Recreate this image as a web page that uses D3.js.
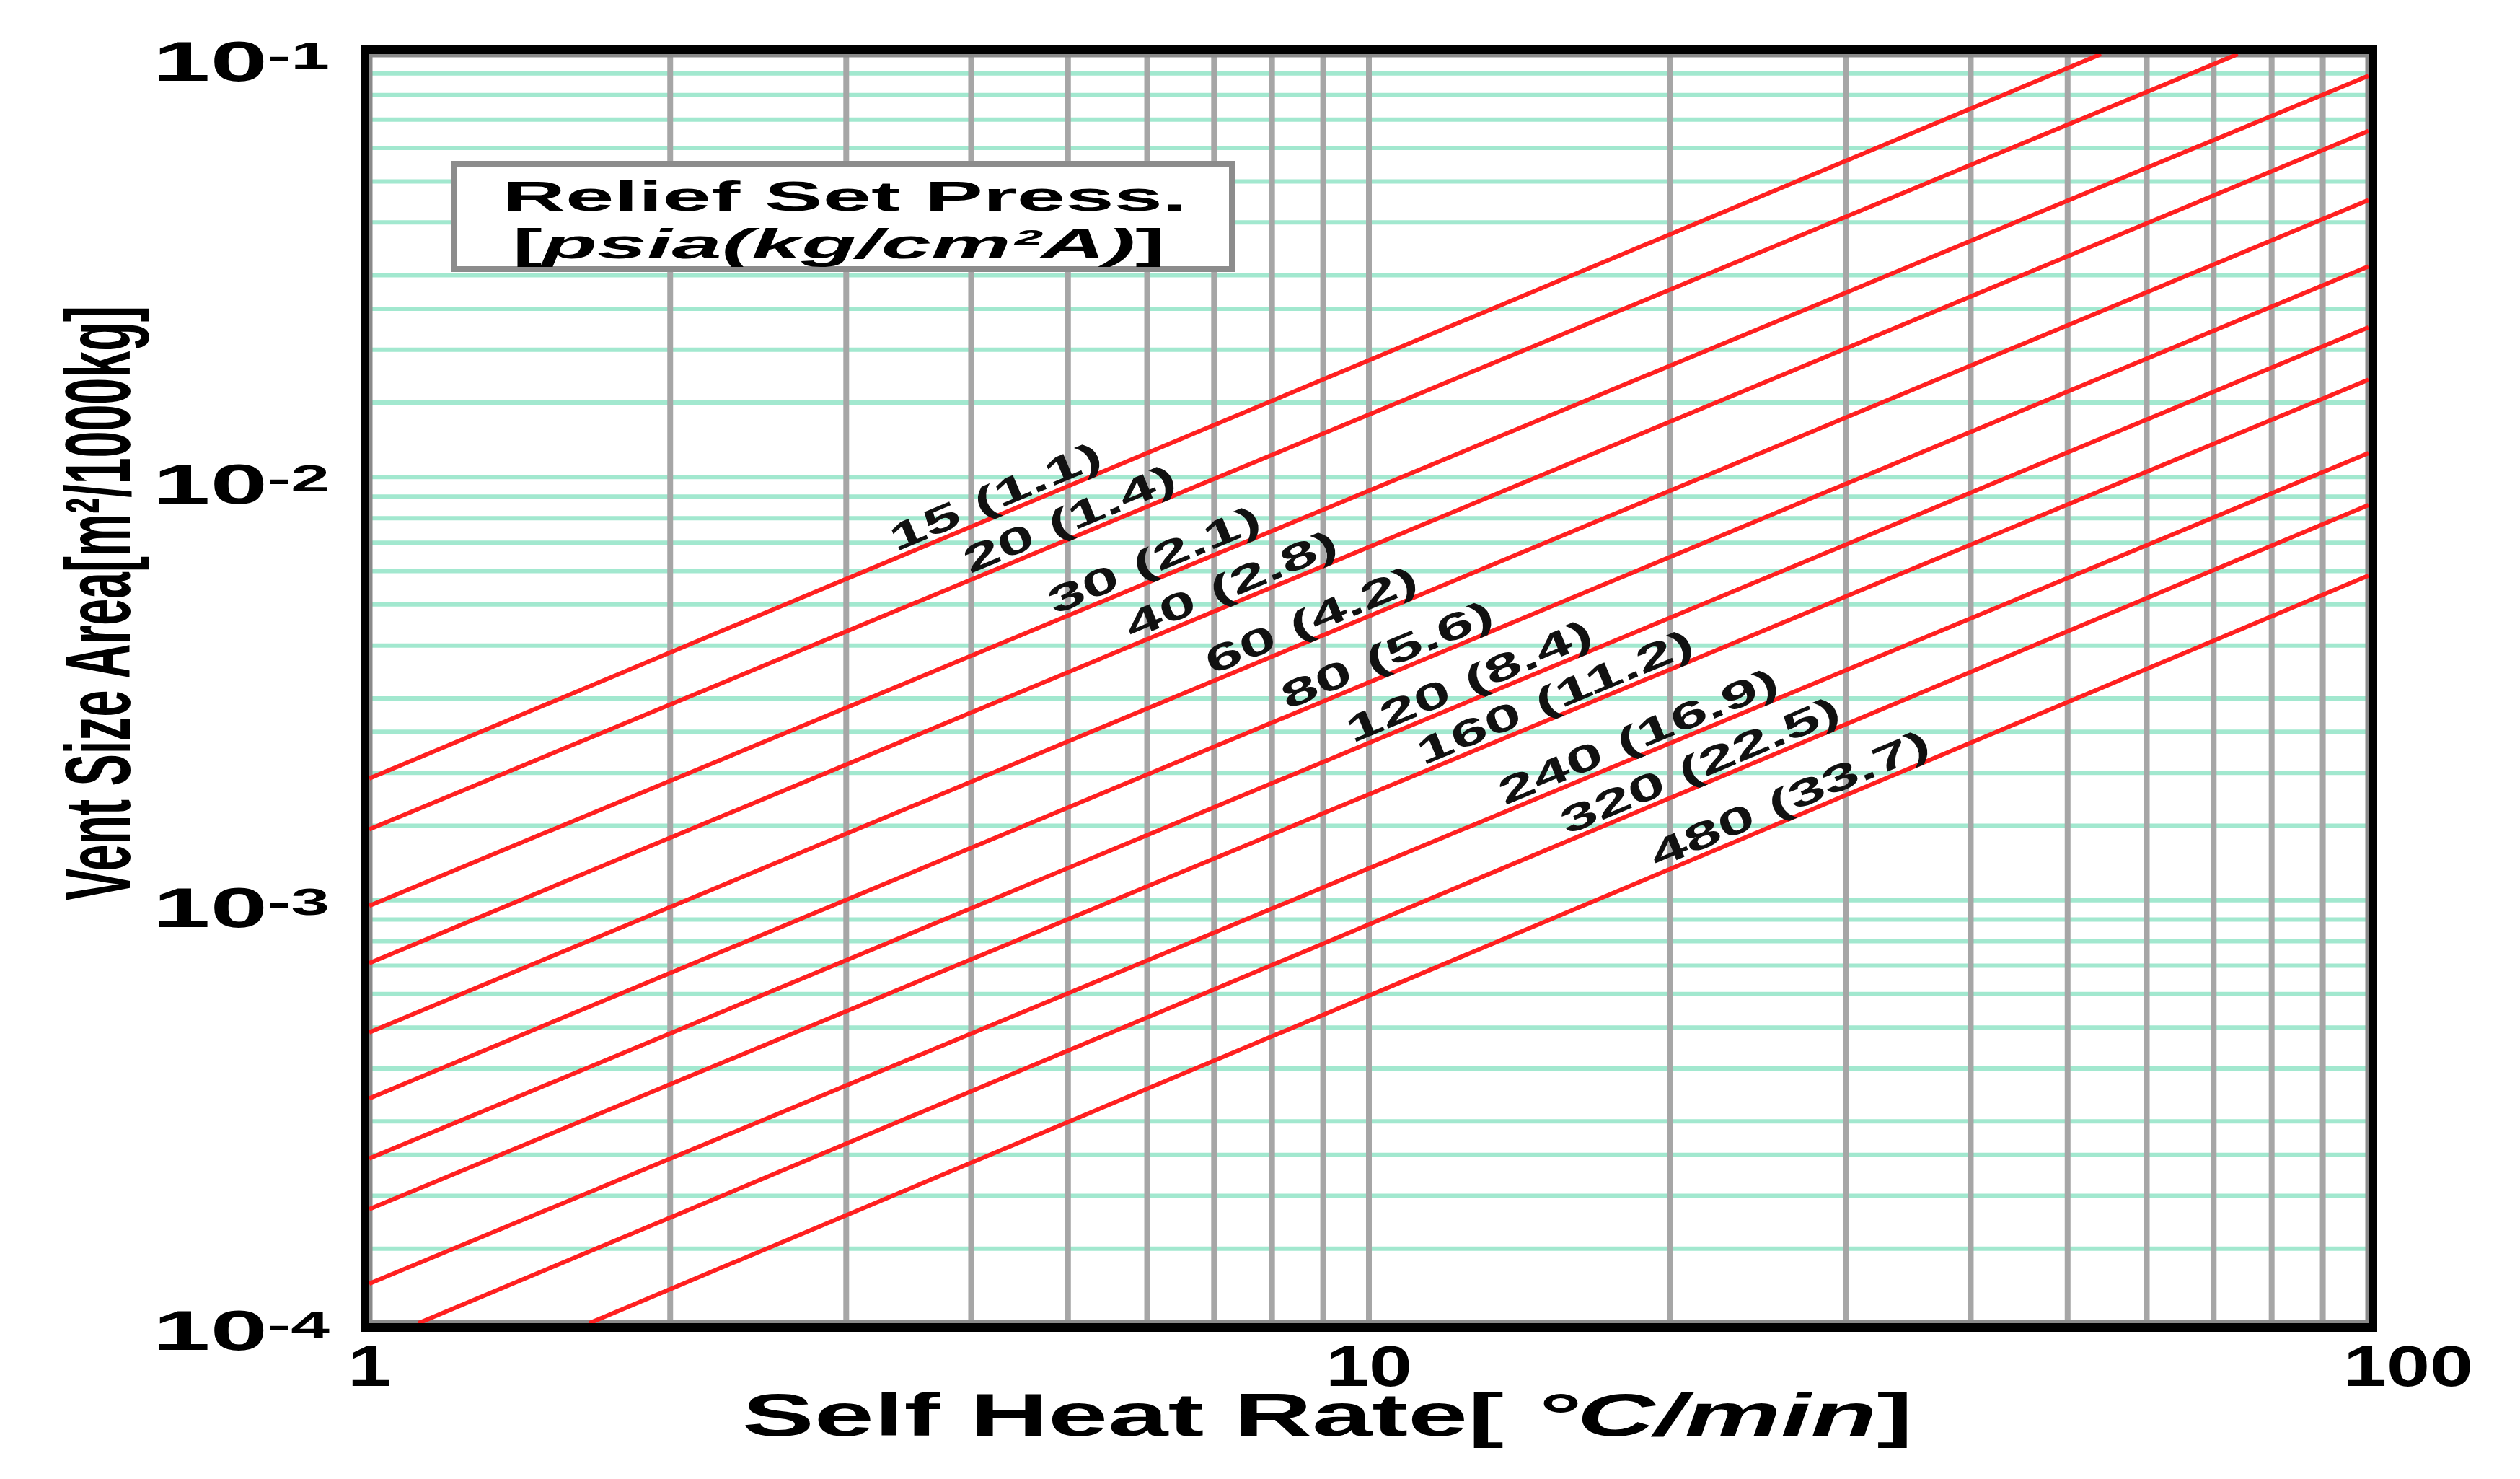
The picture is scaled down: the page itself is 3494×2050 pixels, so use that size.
<!DOCTYPE html>
<html>
<head>
<meta charset="utf-8">
<script src="https://cdn.jsdelivr.net/npm/d3@7"></script>
<style>
  html, body { margin: 0; padding: 0; background: #fff; }
  svg { display: block; font-family: 'Liberation Sans', Arial, sans-serif; font-weight: bold; }
</style>
</head>
<body>
<svg id="chart" width="3494" height="2050"></svg>
<script>
// relief set pressure curves, psia (kg/cm2 A)
const pressLabels = ['15 (1.1)', '20 (1.4)', '30 (2.1)', '40 (2.8)', '60 (4.2)', '80 (5.6)',
  '120 (8.4)', '160 (11.2)', '240 (16.9)', '320 (22.5)', '480 (33.7)']
// each curve at its two ends (rate in C/min, area in m2/1000kg)
const startRate = [1, 1, 1, 1, 1, 1, 1, 1, 1, 1.12, 1.66]
const startArea = [1.94e-3, 1.47e-3, 9.7e-4, 7.1e-4, 4.87e-4, 3.4e-4, 2.45e-4, 1.86e-4, 1.24e-4, 1e-4, 1e-4]
const endRate = [54, 74, 100, 100, 100, 100, 100, 100, 100, 100, 100]
const endArea = [0.1, 0.1, 8.89e-2, 6.58e-2, 4.52e-2, 3.15e-2, 2.26e-2, 1.7e-2, 1.14e-2, 8.59e-3, 5.85e-3]
// rate at which each curve label sits
const labelRate = [4.3, 5.1, 6.2, 7.4, 8.9, 10.6, 12.8, 15.6, 18.9, 21.8, 26.8]

const xTicks = [1, 10, 100]
const xTickLabels = ['1', '10', '100']
const yTicks = [1e-1, 1e-2, 1e-3, 1e-4]
const yTickExp = ['-1', '-2', '-3', '-4']
const xGrid = [2, 3, 4, 5, 6, 7, 8, 9, 10, 20, 30, 40, 50, 60, 70, 80, 90]
const yGridSteps = [1, 1.5, 2, 2.5, 3, 4, 5, 6, 7, 8, 9]
const yDecades = [1e-4, 1e-3, 1e-2]

const width = 3494
const height = 2050
const plot = { left: 512, right: 3284, top: 75, bottom: 1834 }

const svg = d3.select('#chart')

svg.append('rect')
  .attr('width', width)
  .attr('height', height)
  .attr('fill', '#fff')

const x = d3.scaleLog().domain([1, 100]).range([plot.left, plot.right])
const y = d3.scaleLog().domain([1e-4, 1e-1]).range([plot.bottom, plot.top])

svg.append('defs').append('clipPath')
  .attr('id', 'plot-clip')
  .append('rect')
  .attr('x', plot.left)
  .attr('y', plot.top)
  .attr('width', plot.right - plot.left)
  .attr('height', plot.bottom - plot.top)

// green horizontal grid
const yGrid = yDecades.flatMap(d => yGridSteps.map(s => s * d))

svg.append('g')
  .selectAll('line')
  .data(yGrid)
  .enter()
  .append('line')
  .attr('x1', plot.left)
  .attr('x2', plot.right)
  .attr('y1', d => y(d))
  .attr('y2', d => y(d))
  .style('stroke', '#a2e8cf')
  .style('stroke-width', 6)

// gray vertical grid
svg.append('g')
  .selectAll('line')
  .data(xGrid)
  .enter()
  .append('line')
  .attr('x1', d => x(d))
  .attr('x2', d => x(d))
  .attr('y1', plot.top)
  .attr('y2', plot.bottom)
  .style('stroke', '#a6a6a6')
  .style('stroke-width', 8)

// inner gray edge
svg.append('rect')
  .attr('x', plot.left + 2)
  .attr('y', plot.top + 2)
  .attr('width', plot.right - plot.left - 4)
  .attr('height', plot.bottom - plot.top - 4)
  .attr('fill', 'none')
  .style('stroke', '#8a8a8a')
  .style('stroke-width', 5)

const curves = pressLabels.map((label, i) => ({
  label,
  x0: startRate[i], y0: startArea[i],
  x1: endRate[i], y1: endArea[i],
  at: labelRate[i]
}))

svg.append('g')
  .attr('clip-path', 'url(#plot-clip)')
  .selectAll('line')
  .data(curves)
  .enter()
  .append('line')
  .attr('x1', d => x(d.x0))
  .attr('y1', d => y(d.y0))
  .attr('x2', d => x(d.x1))
  .attr('y2', d => y(d.y1))
  .style('stroke', '#ff2020')
  .style('stroke-width', 6)

// area on a curve at a given rate (straight line in log-log)
const areaAt = (d, r) => {
  const k = (Math.log(d.y1) - Math.log(d.y0)) / (Math.log(d.x1) - Math.log(d.x0))
  return Math.exp(Math.log(d.y0) + (Math.log(r) - Math.log(d.x0)) * k)
}

const curveLabels = svg.append('g')
  .selectAll('g')
  .data(curves)
  .enter()
  .append('g')
  .attr('transform', d => {
    const angle = Math.atan2(y(d.y1) - y(d.y0), x(d.x1) - x(d.x0)) * 180 / Math.PI
    return `translate(${x(d.at)}, ${y(areaAt(d, d.at))}) rotate(${angle})`
  })

curveLabels.append('text')
  .attr('y', -8)
  .attr('text-anchor', 'middle')
  .style('font-size', '52px')
  .style('fill', '#111')
  .text(d => d.label)
  .each(function () {
    const w = this.getComputedTextLength()
    d3.select(this).attr('textLength', w * 1.75).attr('lengthAdjust', 'spacingAndGlyphs')
  })

// legend box
const legend = svg.append('g')

legend.append('rect')
  .attr('x', 630)
  .attr('y', 227)
  .attr('width', 1078)
  .attr('height', 146)
  .attr('fill', '#fff')
  .style('stroke', '#8c8c8c')
  .style('stroke-width', 8)

legend.append('text')
  .attr('x', 1171)
  .attr('y', 292)
  .attr('text-anchor', 'middle')
  .attr('textLength', 949)
  .attr('lengthAdjust', 'spacingAndGlyphs')
  .style('font-size', '58px')
  .text('Relief Set Press.')

const unit = legend.append('text')
  .attr('x', 1163)
  .attr('y', 358)
  .attr('text-anchor', 'middle')
  .attr('textLength', 905)
  .attr('lengthAdjust', 'spacingAndGlyphs')
  .style('font-size', '57px')

unit.append('tspan').text('[')
unit.append('tspan').style('font-style', 'italic').text('psia(kg/cm²A)')
unit.append('tspan').text(']')

// frame
svg.append('rect')
  .attr('x', plot.left - 6)
  .attr('y', plot.top - 6)
  .attr('width', plot.right - plot.left + 12)
  .attr('height', plot.bottom - plot.top + 12)
  .attr('fill', 'none')
  .style('stroke', '#000')
  .style('stroke-width', 12)

// y tick labels
const yLabels = svg.append('g')
  .selectAll('text')
  .data(yTicks)
  .enter()
  .append('text')
  .attr('x', 457)
  .attr('y', d => y(d) + 37)
  .attr('text-anchor', 'end')
  .attr('textLength', 245)
  .attr('lengthAdjust', 'spacingAndGlyphs')
  .style('font-size', '77px')

yLabels.append('tspan').text('10')
yLabels.append('tspan')
  .attr('dy', -17)
  .style('font-size', '52px')
  .text((d, i) => yTickExp[i])

// x tick labels
svg.append('g')
  .selectAll('text')
  .data(xTicks)
  .enter()
  .append('text')
  .attr('x', d => x(d) + (d === 100 ? 55 : 0))
  .attr('y', 1921)
  .attr('text-anchor', 'middle')
  .style('font-size', '80px')
  .text((d, i) => xTickLabels[i])
  .each(function () {
    const w = this.getComputedTextLength()
    d3.select(this).attr('textLength', w * 1.35).attr('lengthAdjust', 'spacingAndGlyphs')
  })

// axis titles
const xTitle = svg.append('text')
  .attr('x', 1029)
  .attr('y', 1990)
  .attr('textLength', 1623)
  .attr('lengthAdjust', 'spacingAndGlyphs')
  .style('font-size', '84px')

xTitle.append('tspan').text('Self Heat Rate[ ')
xTitle.append('tspan').style('font-style', 'italic').text('°C/min')
xTitle.append('tspan').text(']')

const yTitle = svg.append('text')
  .style('font-size', '128px')
  .text('Vent Size Area[m²/1000kg]')

const yTitleLen = yTitle.node().getComputedTextLength()
yTitle.attr('transform', `translate(180, 1248) rotate(-90) scale(${824 / yTitleLen}, 1)`)
</script>
</body>
</html>
